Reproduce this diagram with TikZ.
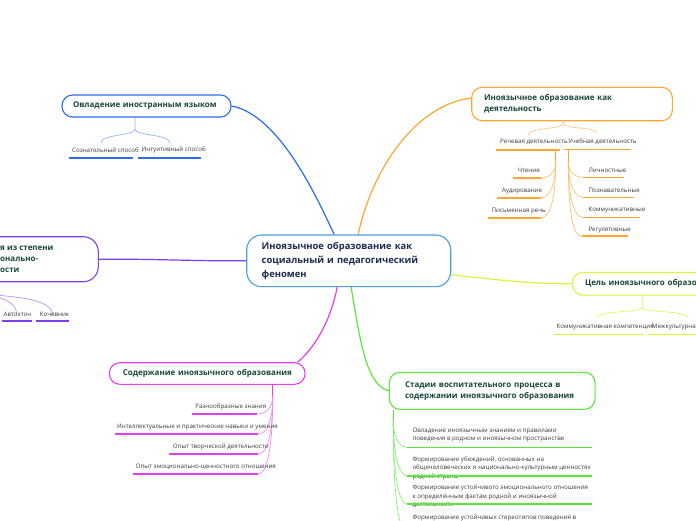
\documentclass[tikz,border=0pt]{standalone}
\usepackage{fontspec}
\setmainfont{Open Sans}
\pgfdeclarelayer{bg}
\pgfsetlayers{bg,main}
\definecolor{cblue}{HTML}{4A9FE0}
\definecolor{bblue}{HTML}{2D6BF0}
\definecolor{orng}{HTML}{FFA530}
\definecolor{ylw}{HTML}{D8F53A}
\definecolor{purp}{HTML}{7B3FF0}
\definecolor{mag}{HTML}{E83DEB}
\definecolor{grn}{HTML}{5BE83A}
\definecolor{headc}{HTML}{17463A}
\definecolor{centc}{HTML}{1B2A52}
\definecolor{leafc}{HTML}{3C3C3C}
\begin{document}
\begin{tikzpicture}[x=1pt,y=-1pt,
  box/.style={draw, fill=white, line width=1.1pt, rounded corners=10.5pt, align=left, inner ysep=0pt, font=\fontsize{8}{11}\selectfont\bfseries, text=headc},
  leaf/.style={inner sep=0pt, font=\fontsize{6.2}{8.6}\selectfont, text=leafc, align=left},
  bar/.style={fill=#1, inner sep=0pt, minimum height=1.6pt, draw=none},
  conn/.style={line width=1.2pt},
  stem/.style={line width=1.5pt},
  fan/.style={line width=0.7pt}]
\useasboundingbox (0,0) rectangle (696,520);

% main nodes
\node[box, draw=cblue, rounded corners=15pt, text width=174pt, inner xsep=15pt, minimum height=51.7pt, font=\fontsize{9.4}{13.8}\selectfont\bfseries, text=centc] (c) at (348.7,260.8) {\mbox{Иноязычное образование как}\\\mbox{социальный и педагогический}\\феномен};
\node[box, draw=bblue, text width=147pt, inner xsep=11pt, minimum height=22pt] (ov) at (146.5,106) {\mbox{Овладение иностранным языком}};
\node[box, draw=orng, text width=176pt, inner xsep=12.3pt, minimum height=33.4pt] (o) at (572,104) {\mbox{Иноязычное образование как}\\деятельность};
\node[box, draw=ylw, text width=174.6pt, inner xsep=12.7pt, minimum height=22.7pt] (y) at (672.3,283.7) {\mbox{Цель иноязычного образования}};
\node[box, draw=purp, rounded corners=15pt, minimum width=248.3pt, minimum height=45pt] (p) at (-25.85,259.2) {};
\node[anchor=west, align=left, inner sep=0pt, font=\fontsize{8}{10.8}\selectfont\bfseries, text=headc] (pt) at (0,259.3) {я из степени\\онально-\\ости};
\node[box, draw=mag, text width=168.9pt, inner xsep=13.4pt, minimum height=21.6pt] (m) at (207.2,373.5) {\mbox{Содержание иноязычного образования}};
\node[box, draw=grn, text width=174.3pt, inner xsep=15.7pt, minimum height=37pt, font=\fontsize{8}{10.6}\selectfont\bfseries] (g) at (492.2,390.8) {\mbox{Стадии воспитательного процесса в}\\\mbox{содержании иноязычного образования}};

% leaves: top-left
\node[leaf] (s1) at (105.5,150) {Сознательный способ};
\node[bar=bblue, minimum width=64.3pt] (s1u) at (101.15,157.7) {};
\node[leaf] (s2) at (173.7,150) {Интуитивный способ};
\node[bar=bblue, minimum width=63.3pt] (s2u) at (169.35,157.7) {};

% leaves: top-right
\node[leaf] (r) at (534,142.3) {Речевая деятельность};
\node[bar=orng, minimum width=64pt] (ru) at (528,150) {};
\node[leaf] (u) at (602.5,141.7) {Учебная деятельность};
\node[bar=orng, minimum width=66.4pt] (uu) at (597.5,149.3) {};
\node[leaf, anchor=east] (r1) at (540,170.7) {Чтение};
\node[bar=orng, minimum width=27.7pt] (r1u) at (527.15,178) {};
\node[leaf, anchor=east] (r2) at (542.3,190.7) {Аудирование};
\node[bar=orng, minimum width=44.3pt] (r2u) at (518.85,197.7) {};
\node[leaf, anchor=east] (r3) at (546,211) {Письменная речь};
\node[bar=orng, minimum width=52.7pt] (r3u) at (514.65,217.7) {};
\node[leaf, anchor=west] (u1) at (588.3,170) {Личностные};
\node[bar=orng, minimum width=40.7pt] (u1u) at (603.65,177.3) {};
\node[leaf, anchor=west] (u2) at (588.3,190) {Познавательные};
\node[bar=orng, minimum width=50.7pt] (u2u) at (608.65,197.3) {};
\node[leaf, anchor=west] (u3) at (588.3,210) {Коммуникативные};
\node[bar=orng, minimum width=56.7pt] (u3u) at (611.65,217.3) {};
\node[leaf, anchor=west] (u4) at (588.3,230) {Регулятивные};
\node[bar=orng, minimum width=46.6pt] (u4u) at (605,236) {};

% leaves: right middle
\node[leaf] (y1) at (605.2,327.3) {Коммуникативная компетенция};
\node[bar=ylw, minimum width=89.3pt] (y1u) at (598.65,334.3) {};
\node[leaf, anchor=west] (y2) at (651.7,327.3) {Межкультурная компетенция};
\node[bar=ylw, minimum width=92.3pt] (y2u) at (693.85,334.3) {};

% leaves: left
\node[leaf] (a1) at (17.5,314.3) {Автохтон};
\node[bar=purp, minimum width=30pt] (a1u) at (16.7,320.7) {};
\node[leaf] (a2) at (54.5,314.3) {Кочевник};
\node[bar=purp, minimum width=33.3pt] (a2u) at (52.65,320.7) {};

% leaves: bottom-left
\node[leaf] (m1) at (230.8,407.3) {Разнообразные знания};
\node[bar=mag, minimum width=65.6pt] (m1u) at (224.5,414) {};
\node[leaf] (m2) at (197.5,427.3) {Интеллектуальные и практические навыки и умения};
\node[bar=mag, minimum width=143.3pt] (m2u) at (186.65,434) {};
\node[leaf] (m3) at (220.8,447.3) {Опыт творческой деятельности};
\node[bar=mag, minimum width=89.3pt] (m3u) at (213.65,454) {};
\node[leaf] (m4) at (205.8,466.7) {Опыт эмоционально-ценностного отношения};
\node[bar=mag, minimum width=125.6pt] (m4u) at (195.5,474) {};

% leaves: bottom-right
\node[leaf, anchor=west] (g1) at (412.3,435) {Овладение иноязычным знанием и правилами\\поведения в родном и иноязычном пространстве};
\node[bar=grn, minimum width=184.7pt] (g1u) at (499.65,447.3) {};
\node[leaf, anchor=west, font=\fontsize{6.2}{8.3}\selectfont] (g2) at (412.3,468.1) {Формирование убеждений, основанных на\\общечеловеческих и национально-культурным ценностях\\родной страны};
\node[bar=grn, minimum width=184.7pt] (g2u) at (499.65,475.7) {};
\node[leaf, anchor=west] (g3) at (412.3,496.5) {Формирование устойчивого эмоционального отношения\\к определённым фактам родной и иноязычной\\деятельности};
\node[bar=grn, minimum width=184.7pt] (g3u) at (499.65,504) {};
\node[leaf, anchor=west] (g4) at (412.3,521) {Формирование устойчивых стереотипов поведения в\\};
\node[bar=grn, minimum width=184.7pt] (g4u) at (499.65,532) {};

% branch points
\coordinate (ovk) at (135,129);
\coordinate (ovl) at (101,143);
\coordinate (ovr) at (170,143);
\coordinate (ok) at (563.3,123);
\coordinate (okl) at (528.3,135);
\coordinate (okr) at (596.7,133.3);
\coordinate (rt) at (555.7,150);
\coordinate (rk) at (555.7,162.7);
\coordinate (ut) at (568.3,149.3);
\coordinate (uk) at (568.3,161.7);
\coordinate (yk) at (642.3,307.3);
\coordinate (ykl) at (596.7,318.3);
\coordinate (ykr) at (688.3,318.3);
\coordinate (pk) at (-25,290);
\coordinate (mk) at (272.7,396.7);
\coordinate (gk) at (393.3,421.7);

\begin{pgfonlayer}{bg}
\fill[white] (0,0) rectangle (696,520);
% main connectors
\draw[conn, bblue] (ov.east) .. controls (280,115) and (318,200) .. ([xshift=88pt]c.north west);
\draw[conn, orng] ([xshift=112pt]c.north west) .. controls (372,170) and (415,105) .. ([yshift=6pt]o.west);
\draw[conn, purp] (p.east) .. controls (170,259) and (180,261) .. (c.west);
\draw[conn, ylw] ([yshift=-14pt]c.east) .. controls (500,280) and (530,284) .. (y.west);
\draw[conn, mag] ([xshift=91pt]c.south west) .. controls (332,315) and (318,345) .. ([xshift=-8pt]m.north east);
\draw[conn, grn] ([xshift=105pt]c.south west) .. controls (360,340) and (366,385) .. (g.west);

% top-left brace
\draw[fan, bblue!50] (ov.south -| ovk) -- (ovk) .. controls (135,136) and (101,134) .. (ovl);
\draw[fan, bblue!50] (ovk) .. controls (135,136) and (170,134) .. (ovr);
% top-right brace
\draw[fan, orng!60] (o.south -| ok) -- (ok) .. controls (563.3,130) and (528.3,127) .. (okl);
\draw[fan, orng!60] (ok) .. controls (563.3,130) and (596.7,126) .. (okr);
% Речевая fan
\draw[stem, orng] (rt) -- (rk);
\draw[fan, orng!70] (rk) .. controls (555.7,172) and (549,178) .. (r1u.east);
\draw[fan, orng!70] (rk) .. controls (555.7,186) and (549,197.7) .. (r2u.east);
\draw[fan, orng!70] (rk) .. controls (555.7,202) and (549,217.7) .. (r3u.east);
% Учебная fan
\draw[stem, orng] (ut) -- (uk);
\draw[fan, orng!70] (uk) .. controls (568.3,172) and (575,177.3) .. (u1u.west);
\draw[fan, orng!70] (uk) .. controls (568.3,186) and (575,197.3) .. (u2u.west);
\draw[fan, orng!70] (uk) .. controls (568.3,202) and (575,217.3) .. (u3u.west);
\draw[fan, orng!70] (uk) .. controls (568.3,218) and (574,236) .. (u4u.west);
% yellow brace
\draw[fan, ylw!80] (y.south -| yk) -- (yk) .. controls (642.3,313) and (596.7,310) .. (ykl);
\draw[fan, ylw!80] (yk) .. controls (642.3,313) and (688.3,310) .. (ykr);
% purple brace
\draw[fan, purp!55] (p.south -| pk) -- (pk) .. controls (-25,297) and (15,293) .. ([yshift=6pt]a1u.north);
\draw[fan, purp!55] (pk) .. controls (-25,298) and (52,292) .. ([yshift=5pt]a2u.north);
% magenta fan
\draw[stem, mag] (m.south -| mk) -- (mk);
\draw[fan, mag!60] (mk) .. controls (272.7,408) and (265,414) .. (m1u.east);
\draw[fan, mag!60] (mk) .. controls (272.7,425) and (265,434) .. (m2u.east);
\draw[fan, mag!60] (mk) .. controls (272.7,442) and (265,454) .. (m3u.east);
\draw[fan, mag!60] (mk) .. controls (272.7,458) and (265,474) .. (m4u.east);
% green fan
\draw[stem, grn] (g.south -| gk) -- (gk);
\draw[fan, grn!70] (gk) .. controls (393.3,438) and (400,447.3) .. (g1u.west);
\draw[fan, grn!70] (gk) .. controls (393.3,458) and (400,475.7) .. (g2u.west);
\draw[fan, grn!70] (gk) .. controls (393.3,482) and (400,504) .. (g3u.west);
\draw[fan, grn!70] (gk) .. controls (393.3,508) and (400,532) .. (g4u.west);
\end{pgfonlayer}
\end{tikzpicture}
\end{document}
